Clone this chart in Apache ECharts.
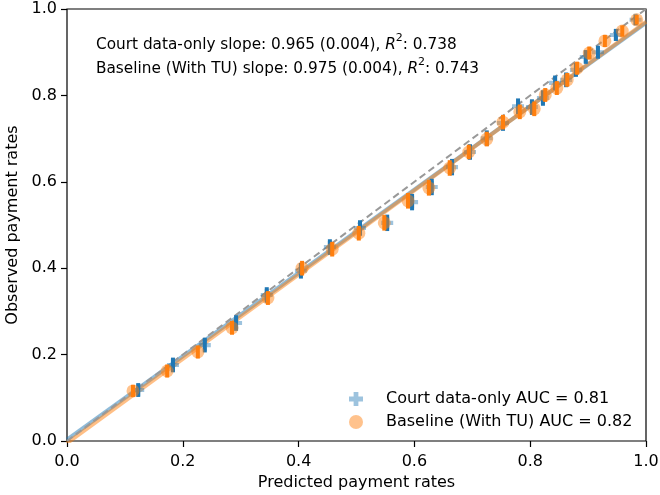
<!DOCTYPE html>
<html>
<head>
<meta charset="utf-8">
<script src="https://cdn.jsdelivr.net/npm/echarts@6/dist/echarts.min.js"></script>
<style>html,body{margin:0;padding:0;background:#fff}#c{width:660px;height:495px}</style>
</head>
<body>
<div id="c"></div>
<script>
// Court data-only (blue plus markers)
const courtX = [0.123,0.183,0.238,0.292,0.345,0.404,0.454,0.506,0.553,0.596,0.630,0.665,0.696,0.725,0.753,0.779,0.803,0.822,0.843,0.862,0.879,0.896,0.917,0.948,0.982];
const courtY = [0.118,0.176,0.222,0.273,0.338,0.394,0.449,0.493,0.505,0.553,0.588,0.634,0.669,0.701,0.736,0.775,0.773,0.794,0.829,0.836,0.859,0.889,0.900,0.940,0.975];
const courtErr = [0.016,0.017,0.017,0.018,0.018,0.018,0.018,0.018,0.019,0.019,0.019,0.019,0.018,0.018,0.018,0.018,0.018,0.018,0.017,0.017,0.016,0.016,0.015,0.014,0.012];
// Baseline (With TU) (orange circle markers)
const baseX = [0.114,0.173,0.226,0.285,0.347,0.406,0.458,0.504,0.548,0.589,0.625,0.661,0.694,0.725,0.753,0.782,0.807,0.826,0.846,0.864,0.881,0.902,0.929,0.959,0.984];
const baseY = [0.116,0.162,0.206,0.262,0.331,0.400,0.444,0.481,0.505,0.556,0.586,0.632,0.669,0.699,0.738,0.762,0.769,0.801,0.817,0.836,0.863,0.898,0.926,0.949,0.975];
const baseErr = [0.014,0.015,0.015,0.016,0.016,0.017,0.017,0.017,0.018,0.018,0.018,0.018,0.017,0.017,0.017,0.017,0.017,0.016,0.016,0.016,0.015,0.015,0.014,0.013,0.011];
// Fitted lines
const courtFit = {slope: 0.965, intercept: 0.003};
const baseFit = {slope: 0.975, intercept: -0.005};
const ticks = [0.0, 0.2, 0.4, 0.6, 0.8, 1.0];
const annot1 = 'Court data-only slope: 0.965 (0.004), ';
const annot1b = ': 0.738';
const annot2 = 'Baseline (With TU) slope: 0.975 (0.004), ';
const annot2b = ': 0.743';
const legendNames = ['Court data-only AUC = 0.81', 'Baseline (With TU) AUC = 0.82'];

const BLUE = '#1f77b4', ORANGE = '#ff7f0e';
const plusPath = 'path://M3.3,0H6.7V3.3H10V6.7H6.7V10H3.3V6.7H0V3.3H3.3Z';
const pts = (xs, ys) => xs.map((x, i) => [x, ys[i]]);
const errData = (xs, ys, es) => xs.map((x, i) => [x, ys[i], es[i]]);
const fitLine = f => [[0, f.intercept], [1, f.intercept + f.slope]];
function errRender(color) {
  return function (params, api) {
    const x = api.value(0), y = api.value(1), e = api.value(2);
    const p1 = api.coord([x, y + e]), p2 = api.coord([x, y - e]);
    return {type: 'rect', shape: {x: p1[0] - 2, y: p1[1], width: 4, height: p2[1] - p1[1]}, style: {fill: color}};
  };
}
const chart = echarts.init(document.getElementById('c'));
const font = 'DejaVu Sans';
const FS = 16;
const AFS = 15.3;
const line = (a, b) => '{n|' + a + '}{i|R}{s|2}{n|' + b + '}';
chart.setOption({
  animation: false,
  textStyle: {fontFamily: font},
  grid: {left: 67, right: 14, top: 9, bottom: 54, outerBoundsMode: 'none', containLabel: false,
    show: true, borderColor: '#000', borderWidth: 1.2, backgroundColor: 'transparent'},
  xAxis: {type: 'value', min: 0, max: 1, interval: 0.2,
    name: 'Predicted payment rates', nameLocation: 'middle', nameGap: 34,
    nameTextStyle: {fontSize: FS, color: '#000', fontFamily: font},
    axisLine: {show: false}, splitLine: {show: false},
    axisTick: {show: true, length: 6, lineStyle: {color: '#000', width: 1.2}},
    axisLabel: {fontSize: FS, color: '#000', margin: 13, fontFamily: font, formatter: v => v.toFixed(1)}},
  yAxis: {type: 'value', min: 0, max: 1, interval: 0.2,
    name: 'Observed payment rates', nameLocation: 'middle', nameGap: 43,
    nameTextStyle: {fontSize: FS, color: '#000', fontFamily: font},
    axisLine: {show: false}, splitLine: {show: false},
    axisTick: {show: true, length: 6, lineStyle: {color: '#000', width: 1.2}},
    axisLabel: {fontSize: FS, color: '#000', margin: 10, fontFamily: font, formatter: v => v.toFixed(1)}},
  legend: {orient: 'vertical', left: 344, top: 386, itemWidth: 14, itemHeight: 14, itemGap: 7,
    textStyle: {fontSize: FS, color: '#000', fontFamily: font, padding: [0, 0, 0, 18]},
    data: [
      {name: legendNames[0], icon: plusPath, itemStyle: {color: 'rgba(31,119,180,0.55)'}},
      {name: legendNames[1], icon: 'circle', itemStyle: {color: 'rgba(255,127,14,0.6)'}}
    ]},
  graphic: [
    {type: 'text', left: 96, top: 33, style: {
      text: line(annot1, annot1b) + '\n' + line(annot2, annot2b),
      fontSize: AFS, fontFamily: font, fill: '#000', lineHeight: 24,
      rich: {n: {fontSize: AFS, fontFamily: font, fill: '#000', color: '#000', lineHeight: 24},
             i: {fontStyle: 'italic', fontSize: AFS, fontFamily: font, color: '#000', lineHeight: 24},
             s: {fontSize: 11, fontFamily: font, color: '#000', verticalAlign: 'top', lineHeight: 24, padding: [0, 0, 6, 0]}}}}
  ],
  series: [
    {type: 'line', name: 'courtFit', data: fitLine(courtFit), showSymbol: false, z: 1,
      lineStyle: {color: BLUE, width: 4, opacity: 0.5}, silent: true},
    {type: 'line', name: 'baseFit', data: fitLine(baseFit), showSymbol: false, z: 1,
      lineStyle: {color: ORANGE, width: 4, opacity: 0.5}, silent: true},
    {type: 'line', name: 'ideal', data: [[ticks[0], ticks[0]], [ticks[5], ticks[5]]], showSymbol: false, z: 2,
      lineStyle: {color: '#999', width: 2, type: [7, 4]}, silent: true},
    {type: 'scatter', name: legendNames[0], data: pts(courtX, courtY), symbol: plusPath, symbolSize: 12, z: 3,
      itemStyle: {color: 'rgba(31,119,180,0.55)'}},
    {type: 'custom', name: 'courtErr', data: errData(courtX, courtY, courtErr), renderItem: errRender(BLUE), z: 4},
    {type: 'scatter', name: legendNames[1], data: pts(baseX, baseY), symbol: 'circle', symbolSize: 13, z: 5,
      itemStyle: {color: 'rgba(255,127,14,0.6)'}},
    {type: 'custom', name: 'baseErr', data: errData(baseX, baseY, baseErr), renderItem: errRender(ORANGE), z: 6}
  ]
});
</script>
</body>
</html>
